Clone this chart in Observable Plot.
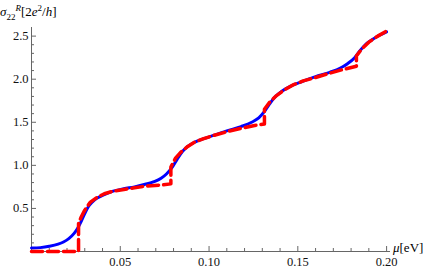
<!DOCTYPE html>
<html>
<head>
<meta charset="utf-8">
<script src="https://cdn.jsdelivr.net/npm/d3@7"></script>
<script src="https://cdn.jsdelivr.net/npm/@observablehq/plot@0.6"></script>
<style>
  html, body { margin: 0; padding: 0; background: #fff; }
  #wrap { position: relative; width: 436px; height: 269px; }
  #wrap svg, #wrap svg text { font-family: "Liberation Serif", "Times New Roman", Times, serif !important; }
  .lab { position: absolute; font-family: "Liberation Serif", "Times New Roman", Times, serif; font-size: 13px; color: #000; white-space: nowrap; line-height: 1; }
  .lab sub, .lab sup { font-size: 9px; line-height: 0; }
</style>
</head>
<body>
<div id="wrap"></div>
<script>
// Finite-temperature curve (blue, solid)
const muBlue = [0.000,0.005,0.010,0.015,0.018,0.021,0.024,0.026,0.028,0.030,0.032,0.034,0.037,0.041,0.046,0.052,0.058,0.064,0.069,0.073,0.076,0.079,0.082,0.085,0.088,0.092,0.097,0.103,0.110,0.118,0.124,0.128,0.131,0.134,0.137,0.141,0.146,0.152,0.160,0.168,0.174,0.178,0.182,0.185,0.188,0.192,0.196,0.200];
const sigBlue = [0.04,0.045,0.06,0.085,0.11,0.15,0.21,0.27,0.35,0.44,0.52,0.57,0.62,0.66,0.70,0.73,0.75,0.78,0.81,0.85,0.90,0.97,1.07,1.16,1.22,1.27,1.31,1.35,1.40,1.45,1.50,1.55,1.62,1.71,1.79,1.86,1.92,1.97,2.03,2.08,2.13,2.18,2.25,2.33,2.40,2.46,2.51,2.55];

// Zero-temperature curve (red, dashed)
const muRed = [0.000,0.0265,0.0265,0.028,0.030,0.033,0.037,0.041,0.046,0.052,0.058,0.065,0.072,0.0785,0.0785,0.081,0.084,0.088,0.092,0.097,0.103,0.110,0.118,0.125,0.1312,0.1312,0.134,0.138,0.142,0.147,0.153,0.160,0.168,0.175,0.183,0.183,0.186,0.190,0.195,0.200];
const sigRed = [0.00,0.00,0.33,0.40,0.48,0.57,0.63,0.67,0.70,0.72,0.74,0.76,0.77,0.785,0.98,1.08,1.15,1.22,1.27,1.31,1.35,1.39,1.43,1.46,1.48,1.65,1.73,1.81,1.87,1.93,1.98,2.02,2.07,2.11,2.15,2.27,2.35,2.43,2.50,2.56];

const xMajor = [0.05, 0.10, 0.15, 0.20];
const xMinor = [0.01,0.02,0.03,0.04,0.06,0.07,0.08,0.09,0.11,0.12,0.13,0.14,0.16,0.17,0.18,0.19];
const yMajor = [0.5, 1.0, 1.5, 2.0, 2.5];
const yMinor = [0.1,0.2,0.3,0.4,0.6,0.7,0.8,0.9,1.1,1.2,1.3,1.4,1.6,1.7,1.8,1.9,2.1,2.2,2.3,2.4];

const W = 436, H = 269, mL = 31, mR = 46, mT = 27, mB = 18;
const frameW = W - mL - mR, frameH = H - mT - mB;

const blue = muBlue.map((m, i) => ({mu: m, s: sigBlue[i]}));
const red = muRed.map((m, i) => ({mu: m, s: sigRed[i]}));

const axisColor = "#666";

const chart = Plot.plot({
  width: W, height: H,
  marginLeft: mL, marginRight: mR, marginTop: mT, marginBottom: mB,
  style: {fontFamily: "'Liberation Serif', 'Times New Roman', serif", fontSize: "12px", background: "white", overflow: "visible"},
  x: {domain: [0, 0.2022], axis: null},
  y: {domain: [0, 2.6], axis: null},
  marks: [
    Plot.axisX(xMajor, {tickSize: 0, tickPadding: 6, tickFormat: d3.format(".2f"), label: null, fontSize: 12.5, fill: "#111"}),
    Plot.axisY(yMajor, {tickSize: 0, tickPadding: 3, tickFormat: d3.format(".1f"), label: null, fontSize: 12.5, fill: "#111"}),
    Plot.ruleY([0], {stroke: axisColor, strokeWidth: 1}),
    Plot.ruleX([0], {stroke: axisColor, strokeWidth: 1}),
    Plot.tickX(xMajor, {x: d => d, stroke: axisColor, insetTop: frameH - 5}),
    Plot.tickX(xMinor, {x: d => d, stroke: axisColor, insetTop: frameH - 3}),
    Plot.tickY(yMajor, {y: d => d, stroke: axisColor, insetRight: frameW - 5}),
    Plot.tickY(yMinor, {y: d => d, stroke: axisColor, insetRight: frameW - 3}),
    Plot.line(blue, {x: "mu", y: "s", stroke: "#0000ff", strokeWidth: 3, curve: "monotone-x"}),
    Plot.line(red, {x: "mu", y: "s", stroke: "#ff0000", strokeWidth: 3.5, strokeDasharray: "11,5", curve: "linear"})
  ]
});

const wrap = document.getElementById("wrap");
wrap.appendChild(chart);

const yl = document.createElement("div");
yl.className = "lab";
yl.style.left = "0px";
yl.style.top = "5px";
yl.innerHTML = "<i>σ</i><sub>22</sub><sup><i>R</i></sup>[2<i>e</i><sup>2</sup>/<i>h</i>]";
wrap.appendChild(yl);

const xl = document.createElement("div");
xl.className = "lab";
xl.style.left = "393px";
xl.style.top = "241px";
xl.innerHTML = "<i>μ</i>[eV]";
wrap.appendChild(xl);
</script>
</body>
</html>
